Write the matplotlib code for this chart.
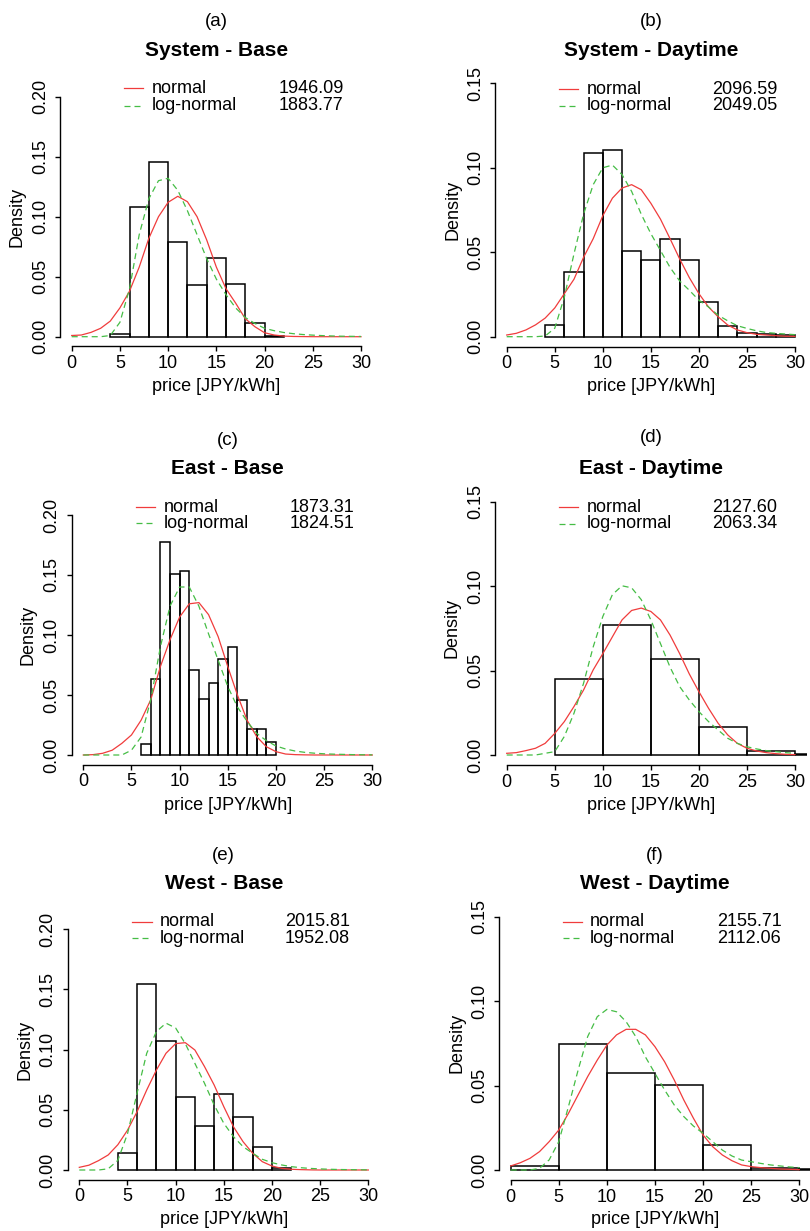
import matplotlib
matplotlib.use("Agg")
import matplotlib.pyplot as plt
from matplotlib.lines import Line2D
import numpy as np

plt.rcParams['font.family'] = ['Liberation Sans', 'DejaVu Sans']

W, H = 810, 1231

# ---------------- data ----------------
panel_letters = ["(a)", "(b)", "(c)", "(d)", "(e)", "(f)"]
panel_titles = ["System - Base", "System - Daytime", "East - Base",
                "East - Daytime", "West - Base", "West - Daytime"]
normal_scores = ["1946.09", "2096.59", "1873.31", "2127.60", "2015.81", "2155.71"]
lognormal_scores = ["1883.77", "2049.05", "1824.51", "2063.34", "1952.08", "2112.06"]
y_max = [0.20, 0.15, 0.20, 0.15, 0.20, 0.15]

# histogram bin edges and densities
edges_a = [4, 6, 8, 10, 12, 14, 16, 18, 20, 22]
dens_a = [0.0022, 0.1083, 0.1456, 0.0792, 0.0428, 0.0653, 0.0439, 0.0117, 0.0010]
edges_b = [4, 6, 8, 10, 12, 14, 16, 18, 20, 22, 24, 26, 28, 30]
dens_b = [0.0069, 0.0385, 0.1090, 0.1105, 0.0510, 0.0455, 0.0578, 0.0455,
          0.0204, 0.0066, 0.0024, 0.0014, 0.0012]
edges_c = [6, 7, 8, 9, 10, 11, 12, 13, 14, 15, 16, 17, 18, 19, 20]
dens_c = [0.0092, 0.0631, 0.1778, 0.1511, 0.1531, 0.0708, 0.0464, 0.0597,
          0.0797, 0.0900, 0.0458, 0.0214, 0.0214, 0.0108]
edges_d = [5, 10, 15, 20, 25, 30, 35]
dens_d = [0.0449, 0.0771, 0.0571, 0.0168, 0.0022, 0.0008]
edges_e = [4, 6, 8, 10, 12, 14, 16, 18, 20, 22]
dens_e = [0.0139, 0.1548, 0.1069, 0.0609, 0.0366, 0.0629, 0.0440, 0.0194, 0.0014]
edges_f = [0, 5, 10, 15, 20, 25, 30, 35]
dens_f = [0.0024, 0.0746, 0.0572, 0.0501, 0.0146, 0.0010, 0.0006]

# fitted density curves, read at price = 0, 1, ..., 30
price_grid = list(range(31))
normal_a = [0.0010, 0.0014, 0.0036, 0.0070, 0.0130, 0.0240, 0.0380, 0.0580, 0.0820, 0.1000,
            0.1120, 0.1170, 0.1125, 0.1000, 0.0806, 0.0580, 0.0400, 0.0280, 0.0150, 0.0083,
            0.0033, 0.0014, 0.0005, 0.0002, 0.0001, 0, 0, 0, 0, 0, 0]
lognorm_a = [0, 0, 0, 0, 0.0010, 0.0120, 0.0400, 0.0850, 0.1150, 0.1300,
             0.1320, 0.1220, 0.1050, 0.0850, 0.0650, 0.0480, 0.0350, 0.0240, 0.0160, 0.0110,
             0.0070, 0.0050, 0.0035, 0.0025, 0.0018, 0.0013, 0.0009, 0.0006, 0.0004, 0.0003, 0.0002]
normal_b = [0.0010, 0.0020, 0.0040, 0.0070, 0.0110, 0.0170, 0.0255, 0.0340, 0.0470, 0.0580,
            0.0716, 0.0820, 0.0880, 0.0900, 0.0870, 0.0790, 0.0696, 0.0580, 0.0460, 0.0350,
            0.0255, 0.0176, 0.0118, 0.0069, 0.0040, 0.0024, 0.0014, 0.0010, 0.0006, 0.0003, 0.0002]
lognorm_b = [0, 0, 0, 0, 0.0004, 0.0050, 0.0235, 0.0490, 0.0725, 0.0900,
             0.1000, 0.1016, 0.0960, 0.0860, 0.0725, 0.0610, 0.0510, 0.0410, 0.0330, 0.0275,
             0.0216, 0.0176, 0.0127, 0.0094, 0.0065, 0.0049, 0.0035, 0.0025, 0.0020, 0.0016, 0.0012]
normal_c = [0, 0.0003, 0.0014, 0.0040, 0.0097, 0.0167, 0.0290, 0.0460, 0.0736, 0.0960,
            0.1150, 0.1260, 0.1270, 0.1170, 0.0986, 0.0736, 0.0500, 0.0290, 0.0153, 0.0069,
            0.0028, 0.0008, 0.0003, 0.0001, 0, 0, 0, 0, 0, 0, 0]
lognorm_c = [0, 0, 0, 0, 0, 0.0040, 0.0150, 0.0460, 0.0900, 0.1240,
             0.1400, 0.1400, 0.1240, 0.1010, 0.0790, 0.0570, 0.0400, 0.0280, 0.0180, 0.0120,
             0.0075, 0.0050, 0.0033, 0.0022, 0.0015, 0.0010, 0.0007, 0.0005, 0.0003, 0.0002, 0.0001]
normal_d = [0.0010, 0.0014, 0.0026, 0.0040, 0.0069, 0.0128, 0.0198, 0.0287, 0.0385, 0.0504,
            0.0600, 0.0700, 0.0800, 0.0856, 0.0870, 0.0850, 0.0800, 0.0710, 0.0600, 0.0480,
            0.0375, 0.0277, 0.0188, 0.0119, 0.0069, 0.0040, 0.0024, 0.0014, 0.0008, 0.0004, 0.0002]
lognorm_d = [0, 0, 0, 0, 0.0010, 0.0020, 0.0110, 0.0247, 0.0425, 0.0640,
             0.0820, 0.0950, 0.1002, 0.0990, 0.0920, 0.0800, 0.0660, 0.0520, 0.0405, 0.0326,
             0.0257, 0.0198, 0.0148, 0.0099, 0.0069, 0.0049, 0.0036, 0.0026, 0.0020, 0.0014, 0.0010]
normal_e = [0.0022, 0.0040, 0.0078, 0.0125, 0.0210, 0.0330, 0.0485, 0.0665, 0.0830, 0.0970,
            0.1050, 0.1058, 0.0997, 0.0859, 0.0706, 0.0526, 0.0360, 0.0235, 0.0139, 0.0069,
            0.0033, 0.0014, 0.0006, 0.0003, 0.0001, 0, 0, 0, 0, 0, 0]
lognorm_e = [0, 0, 0, 0.0010, 0.0080, 0.0300, 0.0640, 0.0970, 0.1150, 0.1220,
             0.1180, 0.1050, 0.0886, 0.0720, 0.0540, 0.0388, 0.0277, 0.0194, 0.0139, 0.0089,
             0.0061, 0.0042, 0.0028, 0.0019, 0.0013, 0.0009, 0.0006, 0.0004, 0.0003, 0.0002, 0.0001]
normal_f = [0.0024, 0.0043, 0.0069, 0.0109, 0.0168, 0.0237, 0.0335, 0.0444, 0.0553, 0.0651,
            0.0740, 0.0800, 0.0833, 0.0833, 0.0800, 0.0730, 0.0641, 0.0533, 0.0414, 0.0306,
            0.0207, 0.0138, 0.0089, 0.0055, 0.0030, 0.0020, 0.0014, 0.0010, 0.0006, 0.0004, 0.0002]
lognorm_f = [0, 0, 0, 0.0010, 0.0060, 0.0168, 0.0375, 0.0590, 0.0790, 0.0908,
             0.0951, 0.0937, 0.0878, 0.0790, 0.0670, 0.0572, 0.0474, 0.0385, 0.0316, 0.0260,
             0.0217, 0.0168, 0.0118, 0.0083, 0.0059, 0.0049, 0.0039, 0.0030, 0.0024, 0.0018, 0.0014]

edges_all = [edges_a, edges_b, edges_c, edges_d, edges_e, edges_f]
dens_all = [dens_a, dens_b, dens_c, dens_d, dens_e, dens_f]
normal_all = [normal_a, normal_b, normal_c, normal_d, normal_e, normal_f]
lognorm_all = [lognorm_a, lognorm_b, lognorm_c, lognorm_d, lognorm_e, lognorm_f]

# ---------------- layout (figure pixels, origin top-left) ----------------
lay = [
    dict(x0=71.7, x30=361.0, y0=336.7, ym=96.7, letter_y=21.7, title_y=50.0,
         leg_l=124, leg_r=143, leg_y1=88.3, leg_y2=106.0, txt_x=151.7, num_x=278.3,
         ylab_x=16.7, xlab_y=386.7),
    dict(x0=506.7, x30=795.0, y0=336.7, ym=83.3, letter_y=21.7, title_y=50.0,
         leg_l=559, leg_r=578.3, leg_y1=89.3, leg_y2=106.0, txt_x=586.7, num_x=712.3,
         ylab_x=453.3, xlab_y=386.7),
    dict(x0=83.3, x30=372.3, y0=755.0, ym=515.0, letter_y=440.0, title_y=468.3,
         leg_l=136, leg_r=155, leg_y1=507.3, leg_y2=523.3, txt_x=163.3, num_x=290.0,
         ylab_x=28.3, xlab_y=806.0),
    dict(x0=506.7, x30=795.0, y0=755.0, ym=501.7, letter_y=437.0, title_y=468.3,
         leg_l=559, leg_r=578.3, leg_y1=507.3, leg_y2=524.0, txt_x=586.7, num_x=712.3,
         ylab_x=451.7, xlab_y=806.0),
    dict(x0=79.3, x30=368.3, y0=1170.0, ym=929.3, letter_y=855.0, title_y=883.3,
         leg_l=132.3, leg_r=151.7, leg_y1=921.7, leg_y2=938.3, txt_x=159.3, num_x=285.0,
         ylab_x=25.0, xlab_y=1220.0),
    dict(x0=510.7, x30=799.3, y0=1170.0, ym=916.7, letter_y=855.0, title_y=883.3,
         leg_l=562.7, leg_r=581.7, leg_y1=921.7, leg_y2=938.3, txt_x=590.0, num_x=716.7,
         ylab_x=456.7, xlab_y=1220.0),
]

RED = '#f03c3c'
GREEN = '#45bd45'
FS = 13
DASH = (4.8, 3.2)

fig = plt.figure(figsize=(W / 100, H / 100), dpi=100)
fig.patch.set_facecolor('white')


def fx(px):
    return px / W


def fy(py):
    return 1 - py / H


for i in range(6):
    L = lay[i]
    ymax = y_max[i]
    ux = (L['x30'] - L['x0']) / 30.0
    uy = (L['y0'] - L['ym']) / ymax
    left = L['x0'] - 1.2 * ux
    right = L['x30'] + 1.2 * ux
    bottom = L['y0'] + 0.04 * ymax * uy
    top = L['ym'] - 0.04 * ymax * uy
    ax = fig.add_axes([fx(left), fy(bottom), (right - left) / W, (bottom - top) / H])
    ax.set_xlim(-1.2, 31.2)
    ax.set_ylim(-0.04 * ymax, 1.04 * ymax)
    ax.patch.set_alpha(0)

    e = edges_all[i]
    d = dens_all[i]
    widths = [e[k + 1] - e[k] for k in range(len(d))]
    ax.bar(e[:-1], d, width=widths, align='edge', fill=False,
           edgecolor='black', linewidth=1.1)
    ax.plot(price_grid, normal_all[i], color=RED, lw=0.9)
    ax.plot(price_grid, lognorm_all[i], color=GREEN, lw=0.9, dashes=DASH)

    for s in ['top', 'right']:
        ax.spines[s].set_visible(False)
    ax.spines['left'].set_bounds(0, ymax)
    ax.spines['bottom'].set_bounds(0, 30)
    for s in ['left', 'bottom']:
        ax.spines[s].set_linewidth(1.0)
    ax.set_xticks([0, 5, 10, 15, 20, 25, 30])
    yt = np.round(np.arange(0, ymax + 1e-9, 0.05), 2)
    ax.set_yticks(yt)
    ax.set_yticklabels(['%.2f' % v for v in yt], rotation=90, va='center')
    ax.tick_params(axis='both', labelsize=FS, length=3.6, width=1.0, color='black')
    ax.tick_params(axis='x', pad=2.5)
    ax.tick_params(axis='y', pad=4.5)

    cx = (left + right) / 2
    fig.text(fx(cx), fy(L['letter_y']), panel_letters[i], ha='center', va='center',
             fontsize=13.5)
    fig.text(fx(cx), fy(L['title_y']), panel_titles[i], ha='center', va='center',
             fontsize=15, fontweight='bold')
    fig.text(fx(cx), fy(L['xlab_y']), 'price [JPY/kWh]', ha='center', va='center',
             fontsize=FS)
    fig.text(fx(L['ylab_x']), fy((L['y0'] + L['ym']) / 2),
             'Density', ha='center', va='center', rotation=90, fontsize=FS)

    # legend
    fig.add_artist(Line2D([fx(L['leg_l']), fx(L['leg_r'])], [fy(L['leg_y1'])] * 2,
                          color=RED, lw=0.9))
    fig.add_artist(Line2D([fx(L['leg_l']), fx(L['leg_r'])], [fy(L['leg_y2'])] * 2,
                          color=GREEN, lw=0.9, dashes=DASH))
    fig.text(fx(L['txt_x']), fy(L['leg_y1']), 'normal', ha='left', va='center', fontsize=FS)
    fig.text(fx(L['txt_x']), fy(L['leg_y2']), 'log-normal', ha='left', va='center', fontsize=FS)
    fig.text(fx(L['num_x']), fy(L['leg_y1']), normal_scores[i], ha='left', va='center', fontsize=FS)
    fig.text(fx(L['num_x']), fy(L['leg_y2']), lognormal_scores[i], ha='left', va='center', fontsize=FS)

fig.savefig('out.png', dpi=100, facecolor='white')
